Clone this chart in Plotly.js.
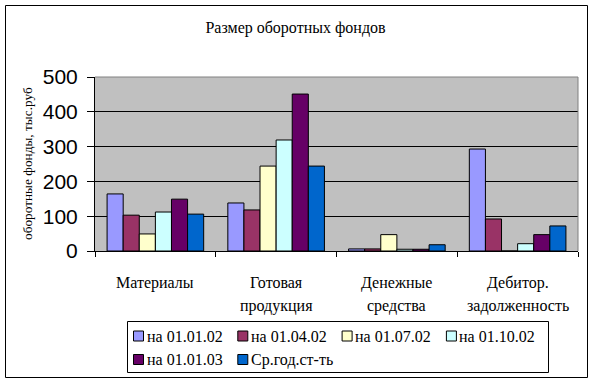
<!DOCTYPE html>
<html>
<head>
<meta charset="utf-8">
<script src="https://cdn.plot.ly/plotly-3.0.1.min.js"></script>
<style>
html,body{margin:0;padding:0;background:#fff;}
#chart{width:594px;height:382px;}
</style>
</head>
<body>
<div id="chart"></div>
<script>
// ---- data ----
var categories = ["Материалы", "Готовая\nпродукция", "Денежные\nсредства", "Дебитор.\nзадолженность"];
var seriesNames = ["на 01.01.02", "на 01.04.02", "на 01.07.02", "на 01.10.02", "на 01.01.03", "Ср.год.ст-ть"];
var s0101_02 = [164, 138, 6, 293];
var s0104_02 = [103, 118, 6, 92];
var s0107_02 = [49, 244, 47, 0];
var s0110_02 = [112, 319, 5, 21];
var s0101_03 = [149, 451, 5, 47];
var sAvg     = [106, 244, 18, 72];
var seriesValues = [s0101_02, s0104_02, s0107_02, s0110_02, s0101_03, sAvg];
var seriesColors = ["#9999FF", "#993366", "#FFFFCC", "#CCFFFF", "#660066", "#0066CC"];
var yTickVals = [0, 100, 200, 300, 400, 500];
var chartTitle = "Размер оборотных фондов";
var yTitle = "оборотные фонды, тыс.руб";

// ---- layout geometry ----
var W = 594, H = 382;
var mL = 95, mR = 16, mT = 77, mB = 131;
var pw = W - mL - mR, ph = H - mT - mB;
function px2x(p){ return (p - mL) / pw; }
function px2y(p){ return (H - mB - p) / ph; }

var serif = "Liberation Serif";
var sans = "Liberation Sans";

var traces = seriesNames.map(function(name, i){
  return {
    type: "bar",
    name: name,
    x: categories,
    y: seriesValues[i],
    marker: {color: seriesColors[i], line: {color: "#000", width: 1}},
    hoverinfo: "skip",
    showlegend: false
  };
});

var annotations = [];
var shapes = [];

// category labels (two-line, Excel-like line spacing)
categories.forEach(function(c){
  c.split("\n").forEach(function(line, j){
    annotations.push({
      xref: "x", yref: "paper", x: c, y: 0,
      yanchor: "middle", xanchor: "center",
      yshift: -31.5 - 23 * j,
      text: line, showarrow: false,
      font: {family: serif, size: 16, color: "#000"}
    });
  });
});

// y-axis title
annotations.push({
  xref: "paper", yref: "paper", x: px2x(27), y: 0.5,
  xanchor: "center", yanchor: "middle",
  textangle: -90, text: yTitle, showarrow: false,
  font: {family: serif, size: 13.3, color: "#000"}
});

// legend (drawn from series names / colours)
var legLeft = 127.5, legTop = 321.5, legRight = 548.5, legBottom = 372.5;
var legCols = 4, legColW = 104.3, legRowH = 23.5, legRow0 = 336;
seriesNames.forEach(function(name, i){
  var col = i % legCols, row = Math.floor(i / legCols);
  var sx = 133.5 + col * legColW, sy = legRow0 + row * legRowH;
  shapes.push({
    type: "rect", xref: "paper", yref: "paper",
    x0: px2x(sx), x1: px2x(sx + 10), y0: px2y(sy + 5), y1: px2y(sy - 5),
    fillcolor: seriesColors[i], line: {color: "#000", width: 1}, layer: "above"
  });
  annotations.push({
    xref: "paper", yref: "paper", x: px2x(sx + 11), y: px2y(sy),
    xanchor: "left", yanchor: "middle", text: name, showarrow: false,
    font: {family: serif, size: 16, color: "#000"}
  });
});
shapes.unshift({
  type: "rect", xref: "paper", yref: "paper",
  x0: px2x(legLeft), x1: px2x(legRight), y0: px2y(legBottom), y1: px2y(legTop),
  fillcolor: "#fff", line: {color: "#000", width: 1}, layer: "above"
});

// plot area top/right border (grey) and chart frame
shapes.push(
  {type: "line", xref: "paper", yref: "paper", x0: 0, x1: 1, y0: 1, y1: 1, line: {color: "#808080", width: 1}, layer: "above"},
  {type: "line", xref: "paper", yref: "paper", x0: 1, x1: 1, y0: 0, y1: 1, line: {color: "#808080", width: 1}, layer: "above"},
  {type: "rect", xref: "paper", yref: "paper",
   x0: px2x(5.5), x1: px2x(587.5), y0: px2y(377.5), y1: px2y(5.5),
   line: {color: "#000", width: 1}, fillcolor: "rgba(0,0,0,0)", layer: "above"}
);

var layout = {
  width: W, height: H,
  margin: {l: mL, r: mR, t: mT, b: mB, pad: 0},
  paper_bgcolor: "#fff",
  plot_bgcolor: "#C0C0C0",
  showlegend: false,
  barmode: "group",
  bargap: 0.2,
  bargroupgap: 0,
  title: {
    text: chartTitle,
    font: {family: serif, size: 16, color: "#000"},
    x: 295.5 / W, xanchor: "center", xref: "container",
    y: 1 - 27 / H, yanchor: "middle", yref: "container"
  },
  xaxis: {
    type: "category",
    categoryarray: categories,
    showline: true, linecolor: "#000", linewidth: 1,
    ticks: "outside", tickson: "boundaries", ticklen: 5, tickcolor: "#000", tickwidth: 1,
    showticklabels: false,
    showgrid: false, zeroline: false,
    fixedrange: true
  },
  yaxis: {
    range: [0, 500],
    tickvals: yTickVals,
    ticktext: yTickVals.map(String),
    showline: true, linecolor: "#000", linewidth: 1,
    ticks: "outside", ticklen: 7, tickcolor: "#000", tickwidth: 1,
    tickfont: {family: sans, size: 21, color: "#000"},
    ticklabelstandoff: 5,
    showgrid: true, gridcolor: "#000", gridwidth: 1,
    zeroline: false,
    automargin: false,
    fixedrange: true
  },
  annotations: annotations,
  shapes: shapes
};

Plotly.newPlot("chart", traces, layout, {displayModeBar: false, staticPlot: true});
</script>
</body>
</html>
